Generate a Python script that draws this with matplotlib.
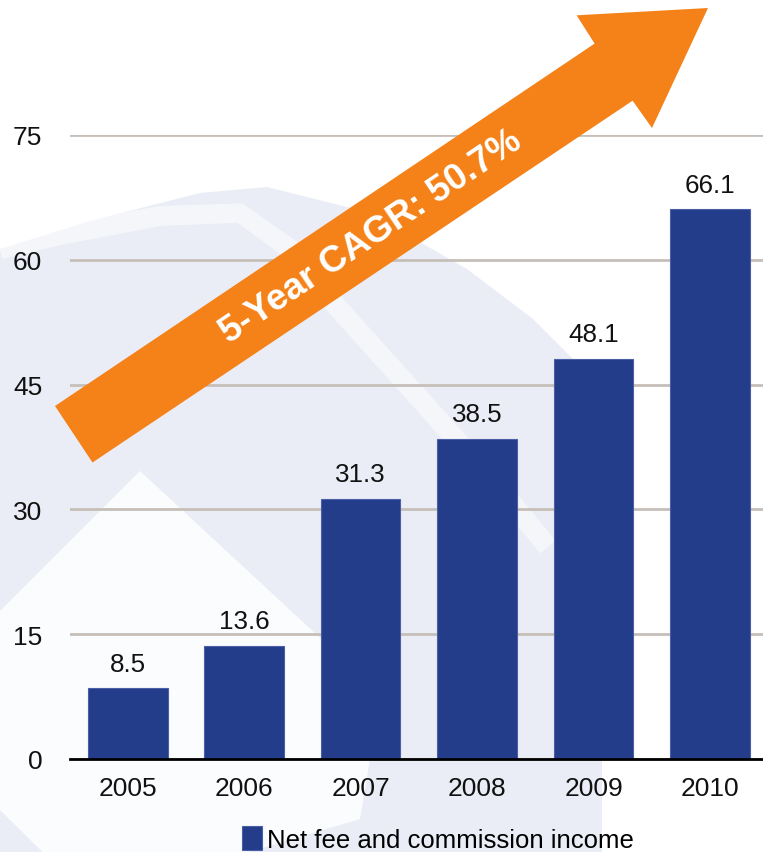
import matplotlib.pyplot as plt
import numpy as np
from matplotlib.patches import Polygon

plt.rcParams['font.family'] = ['Liberation Sans', 'DejaVu Sans']

years = ['2005', '2006', '2007', '2008', '2009', '2010']
income = [8.5, 13.6, 31.3, 38.5, 48.1, 66.1]
y_ticks = [0, 15, 30, 45, 60, 75]
series_name = 'Net fee and commission income'
cagr_label = '5-Year CAGR: 50.7%'

W, H = 763, 853
bar_color = '#233d8b'
orange = '#f58219'
wash = '#ebedf6'


def px(points):
    # pixel coords (origin top-left) -> figure fraction
    pts = np.array(points, dtype=float)
    return np.column_stack([pts[:, 0] / W, 1 - pts[:, 1] / H])


def stripe(centre, width):
    # polygon of constant width around a polyline (pixel coords)
    c = np.array(centre, dtype=float)
    d = np.gradient(c, axis=0)
    n = np.column_stack([-d[:, 1], d[:, 0]])
    n /= np.linalg.norm(n, axis=1)[:, None]
    return np.vstack([c + n * width / 2, (c - n * width / 2)[::-1]])


fig = plt.figure(figsize=(W / 100, H / 100), dpi=100)
fig.patch.set_facecolor('white')

# faint logo in the background
fig.patches.append(Polygon(px([(0, 250), (90, 222), (200, 194), (267, 188), (367, 213),
                               (467, 270), (533, 320), (580, 367), (602, 400),
                               (602, 853), (0, 853)]),
                           closed=True, transform=fig.transFigure, facecolor=wash,
                           edgecolor='none', zorder=-2))
band = stripe([(0, 250), (60, 236), (160, 217), (240, 214), (290, 250), (330, 300),
               (420, 400), (500, 490), (548, 548)], 20)
fig.patches.append(Polygon(px(band), closed=True, transform=fig.transFigure,
                           facecolor='white', edgecolor='none', alpha=0.55, zorder=-1))
fig.patches.append(Polygon(px([(140, 472), (345, 662), (380, 700), (360, 820),
                               (90, 900), (-100, 712)]),
                           closed=True, transform=fig.transFigure, facecolor='white',
                           edgecolor='none', alpha=0.85, zorder=-1))

ax = fig.add_axes([70 / W, 93 / H, 1 - 70 / W, (760 - 136) / H])
ax.set_facecolor('none')

x = np.arange(len(years))
bars = ax.bar(x, income, width=0.685, color=bar_color, edgecolor='#4a5fa6',
              linewidth=0.8, label=series_name, zorder=3)

for xi, v in zip(x, income):
    ax.annotate(f'{v:.1f}', (xi, v), xytext=(0, 9), textcoords='offset points',
                ha='center', va='bottom', fontsize=18.7, color='#111111', zorder=4)

ax.set_xlim(-0.495, 5.455)
ax.set_ylim(0, 75)
ax.set_yticks(y_ticks)
ax.set_xticks(x)
ax.set_xticklabels(years)
ax.tick_params(axis='both', length=0, labelsize=19, colors='#111111')
ax.tick_params(axis='x', pad=12)
ax.tick_params(axis='y', pad=20)
ax.grid(axis='y', color='#c6bfb9', linewidth=2.0, zorder=1)
ax.set_axisbelow(True)
for side in ['top', 'right', 'left']:
    ax.spines[side].set_visible(False)
ax.spines['bottom'].set_color('black')
ax.spines['bottom'].set_linewidth(2.0)
ax.spines['bottom'].set_zorder(5)

# growth arrow
arrow = Polygon(px([(55, 407), (594.6, 44.6), (576.6, 16.3), (708, 9),
                    (652, 129), (632.6, 101.7), (92.5, 463.5)]),
                closed=True, transform=fig.transFigure, facecolor=orange,
                edgecolor='none', clip_on=False, zorder=6)
ax.add_artist(arrow)
cx, cy = px([(371, 237)])[0]
fig.text(cx, cy, cagr_label, rotation=33.9, rotation_mode='anchor',
         ha='center', va='center', fontsize=26.5, fontweight='bold', color='white',
         zorder=7)

ax.legend(loc='center', bbox_to_anchor=(438 / W, 1 - 840 / H),
          bbox_transform=fig.transFigure, frameon=False, fontsize=18.5,
          handlelength=0.75, handleheight=1.05, handletextpad=0.2,
          borderpad=0, borderaxespad=0)

fig.savefig('out.png', dpi=100)
